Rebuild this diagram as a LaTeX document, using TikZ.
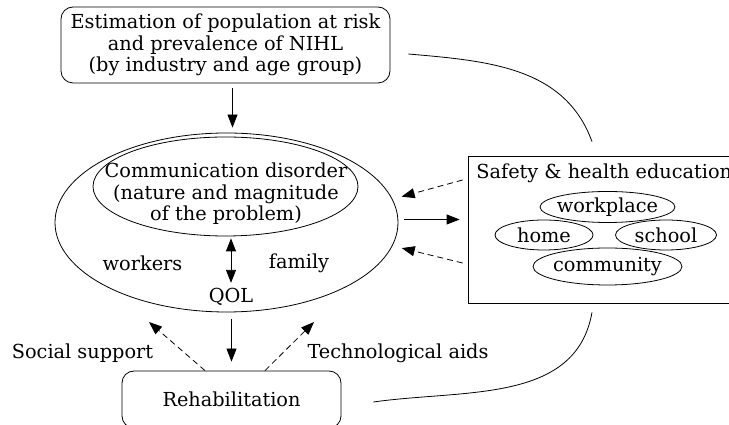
\documentclass[tikz,border=0pt]{standalone}
\usepackage{fontspec}
\setmainfont{DejaVu Serif}
\usetikzlibrary{arrows.meta,shapes.geometric}

\begin{document}
\begin{tikzpicture}[x=1pt,y=1pt,
	line width=0.8pt,
	every node/.style={font=\fontsize{19.3}{21.5}\selectfont,
					inner sep=1pt,
					align=center
					},
	arrowed/.style={-{Triangle[length=13pt,width=10pt]}},
	soft/.style={arrowed, dash pattern=on 6pt off 4pt},
	proc/.style={draw, rounded corners=12pt},
	ring/.style={draw, ellipse, inner xsep=-3pt, inner ysep=0pt}
]
	\useasboundingbox (0,0) rectangle (729,425);
	\node (estimate) [proc, minimum width=329pt, minimum height=76pt] at (225.5,380) {Estimation of population at risk\\and prevalence of NIHL\\(by industry and age group)};
	\node (sphere) [ring, minimum width=343pt, minimum height=179pt] at (226.5,202.5) {};
	\node (disorder) [ring, minimum width=265pt, minimum height=99pt] at (225.5,238.5) {};
	\node (disordertext) at (226,231) {Communication disorder\\(nature and magnitude\\of the problem)};
	\node (workers) at (142.5,162) {workers};
	\node (family) at (299,162) {family};
	\node (qol) at (231,128) {QOL};
	\node (rehab) [proc, minimum width=219pt, minimum height=57pt] at (231.5,25.5) {Rehabilitation};
	\node (social) at (82.5,72) {Social support};
	\node (techaids) at (398,72) {Technological aids};
	\node (education) [draw, minimum width=277pt, minimum height=147pt] at (606.5,195.5) {};
	\node (edutitle) [anchor=west] at (475,252) {Safety \& health education};
	\node (workplace) [ring, minimum width=135pt, minimum height=31pt] at (607.5,218) {workplace};
	\node (home) [ring, minimum width=98pt, minimum height=30pt] at (544,190) {home};
	\node (school) [ring, minimum width=101pt, minimum height=30pt] at (666,190) {school};
	\node (community) [ring, minimum width=149pt, minimum height=37pt] at (607.5,158.5) {community};
	\coordinate (socialtip) at (149,103);
	\coordinate (techtip) at (314,103);

	\draw[arrowed, shorten <=5pt, shorten >=5pt] ([xshift=7pt]estimate.south) -- ([xshift=7pt]estimate.south |- sphere.north);
	\draw[{Triangle[length=13pt,width=10pt]}-{Triangle[length=13pt,width=10pt]}, shorten <=2pt, shorten >=4pt] (disorder.south -| qol.north) -- (qol.north);
	\draw[arrowed, shorten <=6pt, shorten >=8pt] ([yshift=3pt]sphere.east) -- ([yshift=3pt]sphere.east -| education.west);
	\draw[soft, shorten >=9.5pt] ([xshift=-5pt,yshift=49.5pt]education.west) -- (sphere.8);
	\draw[soft, shorten >=9.5pt] ([xshift=-5pt,yshift=-33.5pt]education.west) -- (sphere.352);
	\draw[arrowed, shorten <=7pt, shorten >=9pt] (sphere.south -| rehab.north) -- (rehab.north);
	\draw[soft] ([xshift=-26.5pt]rehab.north) -- (socialtip);
	\draw[soft] ([xshift=33.5pt]rehab.north) -- (techtip);
	\draw ([xshift=18pt,yshift=-9pt]estimate.east) to[out=-5, in=110] ([xshift=-14.5pt,yshift=14pt]education.north);
	\draw ([xshift=-14.5pt,yshift=-9pt]education.south) to[out=-100, in=8] ([xshift=32pt,yshift=-2.5pt]rehab.east);
\end{tikzpicture}
\end{document}
